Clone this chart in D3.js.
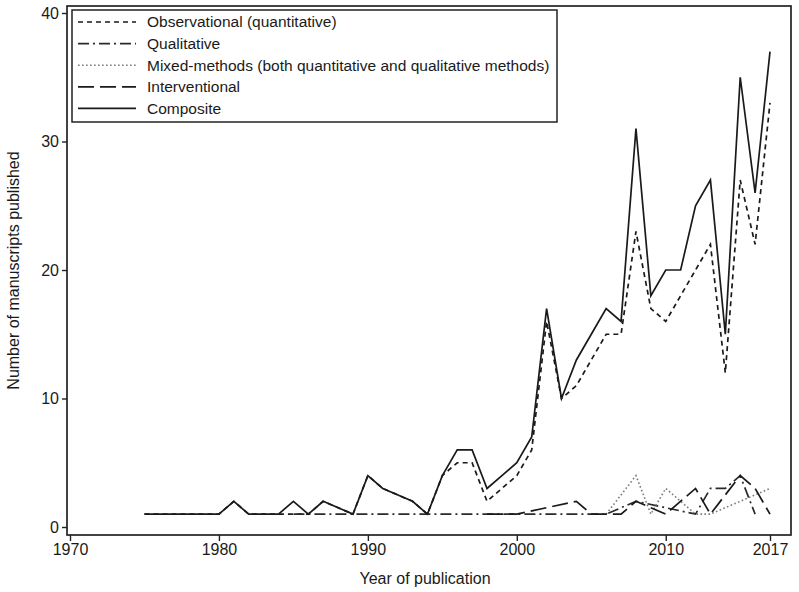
<!DOCTYPE html>
<html>
<head>
<meta charset="utf-8">
<script src="https://cdn.jsdelivr.net/npm/d3@7"></script>
<style>
  html, body { margin: 0; padding: 0; background: #fff; }
  svg { display: block; font-family: "Liberation Sans", Arial, sans-serif; }
</style>
</head>
<body>
<svg id="chart" width="799" height="592"></svg>
<script>
// ---- data (null = no manuscripts that year, line connects across) ----
const years = d3.range(1975, 2018);
const observational = [1,1,1,1,1,1,2,1,1,1,1,1,2,null,1,4,3,null,2,1,4,5,5,2,3,4,6,16,10,11,13,15,15,23,17,16,18,20,22,12,27,22,33];
const qualitative   = [null,null,null,null,null,null,null,null,null,null,1,null,null,null,null,null,null,null,null,null,null,1,1,null,null,null,1,null,null,null,1,1,null,2,null,null,null,1,3,3,4,1,null];
const mixedMethods  = [null,null,null,null,null,null,null,null,null,null,null,null,null,null,null,null,null,null,null,null,null,null,null,null,null,null,null,null,null,null,null,1,null,4,1,3,2,1,1,null,null,null,3];
const interventional= [null,null,null,null,null,null,null,null,null,null,null,null,null,null,null,null,null,null,null,null,null,null,null,1,1,1,null,null,null,2,1,null,1,2,null,1,null,3,1,null,4,3,1];
const composite     = [1,1,1,1,1,1,2,1,1,1,2,1,2,null,1,4,3,null,2,1,4,6,6,3,4,5,7,17,10,13,15,17,16,31,18,20,20,25,27,15,35,26,37];

const seriesNames = ["Observational (quantitative)", "Qualitative", "Mixed-methods (both quantitative and qualitative methods)", "Interventional", "Composite"];
const xTicks = [1970, 1980, 1990, 2000, 2010, 2017];
const yTicks = [0, 10, 20, 30, 40];

// ---- styles ----
const styles = [
  { values: observational,  dash: "5,4",          color: "#1a1a1a", width: 1.7 },
  { values: qualitative,    dash: "11,4,2,4",     color: "#2a2a2a", width: 1.7 },
  { values: mixedMethods,   dash: "1.6,2.4",      color: "#7a7a7a", width: 1.6 },
  { values: interventional, dash: "16,6",         color: "#1a1a1a", width: 1.7 },
  { values: composite,      dash: null,           color: "#1a1a1a", width: 1.7 }
];

const svg = d3.select("#chart");
const frame = { left: 67, right: 791, top: 6, bottom: 535 };
const FONT = "\"Liberation Sans\", Arial, sans-serif";

const x = d3.scaleLinear().domain([1970, 2017]).range([70, 770]);
const y = d3.scaleLinear().domain([0, 40]).range([527, 13]);

// frame
svg.append("rect")
  .attr("x", frame.left).attr("y", frame.top)
  .attr("width", frame.right - frame.left).attr("height", frame.bottom - frame.top)
  .attr("fill", "none").attr("stroke", "#222").attr("stroke-width", 1.7);

// axes
const yAxis = svg.append("g")
  .attr("transform", `translate(${frame.left},0)`)
  .call(d3.axisLeft(y).tickValues(yTicks).tickSize(5).tickPadding(3).tickFormat(d3.format("d")));
const xAxis = svg.append("g")
  .attr("transform", `translate(0,${frame.bottom})`)
  .call(d3.axisBottom(x).tickValues(xTicks).tickSize(6).tickPadding(3).tickFormat(d3.format("d")));
[yAxis, xAxis].forEach(g => {
  g.select(".domain").remove();
  g.selectAll("line").attr("stroke", "#222").attr("stroke-width", 1.4);
  g.selectAll("text").attr("fill", "#1a1a1a").style("font-size", "16px").style("font-family", FONT);
});

// axis titles
svg.append("text")
  .attr("x", 425).attr("y", 584)
  .attr("text-anchor", "middle").attr("fill", "#1a1a1a").style("font-size", "16px")
  .text("Year of publication");
svg.append("text")
  .attr("transform", `translate(19,${(frame.top + frame.bottom) / 2}) rotate(-90)`)
  .attr("text-anchor", "middle").attr("fill", "#1a1a1a").style("font-size", "16px")
  .text("Number of manuscripts published");

// lines (missing years skipped and connected across, as in the source)
const lineGen = d3.line().x(d => x(d.year)).y(d => y(d.v));
const plotG = svg.append("g");
styles.forEach(s => {
  const pts = years.map((yr, i) => ({ year: yr, v: s.values[i] })).filter(d => d.v !== null);
  plotG.append("path")
    .datum(pts)
    .attr("d", lineGen)
    .attr("fill", "none")
    .attr("stroke", s.color)
    .attr("stroke-width", s.width)
    .attr("stroke-linejoin", "miter")
    .attr("stroke-dasharray", s.dash);
});

// legend
const lg = { x: 72, y: 10, w: 485, h: 112 };
svg.append("rect")
  .attr("x", lg.x).attr("y", lg.y).attr("width", lg.w).attr("height", lg.h)
  .attr("fill", "#fff").attr("stroke", "#222").attr("stroke-width", 1.5);
seriesNames.forEach((name, i) => {
  const cy = 22 + i * 21.6;
  svg.append("line")
    .attr("x1", 78).attr("x2", 136).attr("y1", cy).attr("y2", cy)
    .attr("stroke", styles[i].color).attr("stroke-width", styles[i].width)
    .attr("stroke-dasharray", styles[i].dash);
  svg.append("text")
    .attr("x", 147).attr("y", cy).attr("dy", "0.35em")
    .attr("fill", "#1a1a1a").style("font-size", "15.5px")
    .text(name);
});
</script>
</body>
</html>
